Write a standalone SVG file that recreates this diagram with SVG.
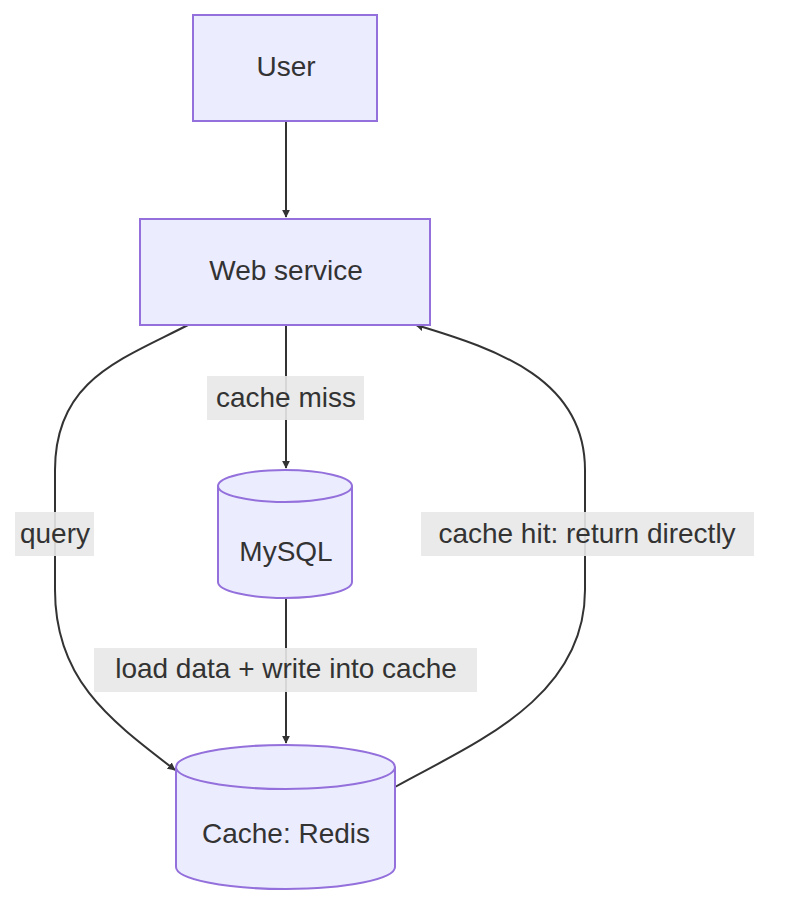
<svg xmlns="http://www.w3.org/2000/svg" width="786" height="924" viewBox="0 0 786 924">
<style>
.n{fill:#ECECFF;stroke:#9370DB;stroke-width:2}
.t{font-family:"Liberation Sans",Arial,sans-serif;font-size:28px;fill:#333;text-anchor:middle;dominant-baseline:central}
.e{fill:none;stroke:#333;stroke-width:2}
.lb{fill:#e8e8e8;opacity:0.9}
</style>
<defs><marker id="a" viewBox="0 0 10 10" refX="9" refY="5" markerWidth="8" markerHeight="8" orient="auto-start-reverse" markerUnits="userSpaceOnUse"><path d="M0,0L10,5L0,10z" fill="#333"/></marker></defs>
<rect width="786" height="924" fill="#fff"/>
<g id="connectors">
<path class="e" d="M286,121V217" marker-end="url(#a)"/>
<path class="e" d="M286,325V468" marker-end="url(#a)"/>
<path class="e" d="M286,598V743" marker-end="url(#a)"/>
<path class="e" d="M188,325C120,360 55,380 55,470V590C55,680 110,720 175,770" marker-end="url(#a)"/>
<path class="e" d="M395,787C470,745 585,700 585,590V470C585,380 500,350 416,325" marker-end="url(#a)"/>
<rect class="lb" x="207" y="376" width="157" height="44"/><text class="t" x="286" y="397">cache miss</text>
<rect class="lb" x="94" y="648" width="383" height="44"/><text class="t" x="286" y="668">load data + write into cache</text>
<rect class="lb" x="15" y="512" width="79" height="44"/><text class="t" x="55" y="533">query</text>
<rect class="lb" x="421" y="512" width="333" height="44"/><text class="t" x="587" y="533">cache hit: return directly</text>
</g>
<g id="user"><rect class="n" x="193" y="15" width="184" height="106"/><text class="t" x="286" y="66">User</text></g>
<g id="web"><rect class="n" x="140" y="219" width="290" height="106"/><text class="t" x="286" y="270">Web service</text></g>
<g id="mysql"><path class="n" d="M218,486A67,16 0 0 1 352,486V582A67,16 0 0 1 218,582Z"/><path class="n" fill="none" d="M218,486A67,16 0 0 0 352,486"/><text class="t" x="286" y="551">MySQL</text></g>
<g id="redis"><path class="n" d="M176,767A109.5,22 0 0 1 395,767V867A109.5,22 0 0 1 176,867Z"/><path class="n" fill="none" d="M176,767A109.5,22 0 0 0 395,767"/><text class="t" x="286" y="833">Cache: Redis</text></g>
</svg>
